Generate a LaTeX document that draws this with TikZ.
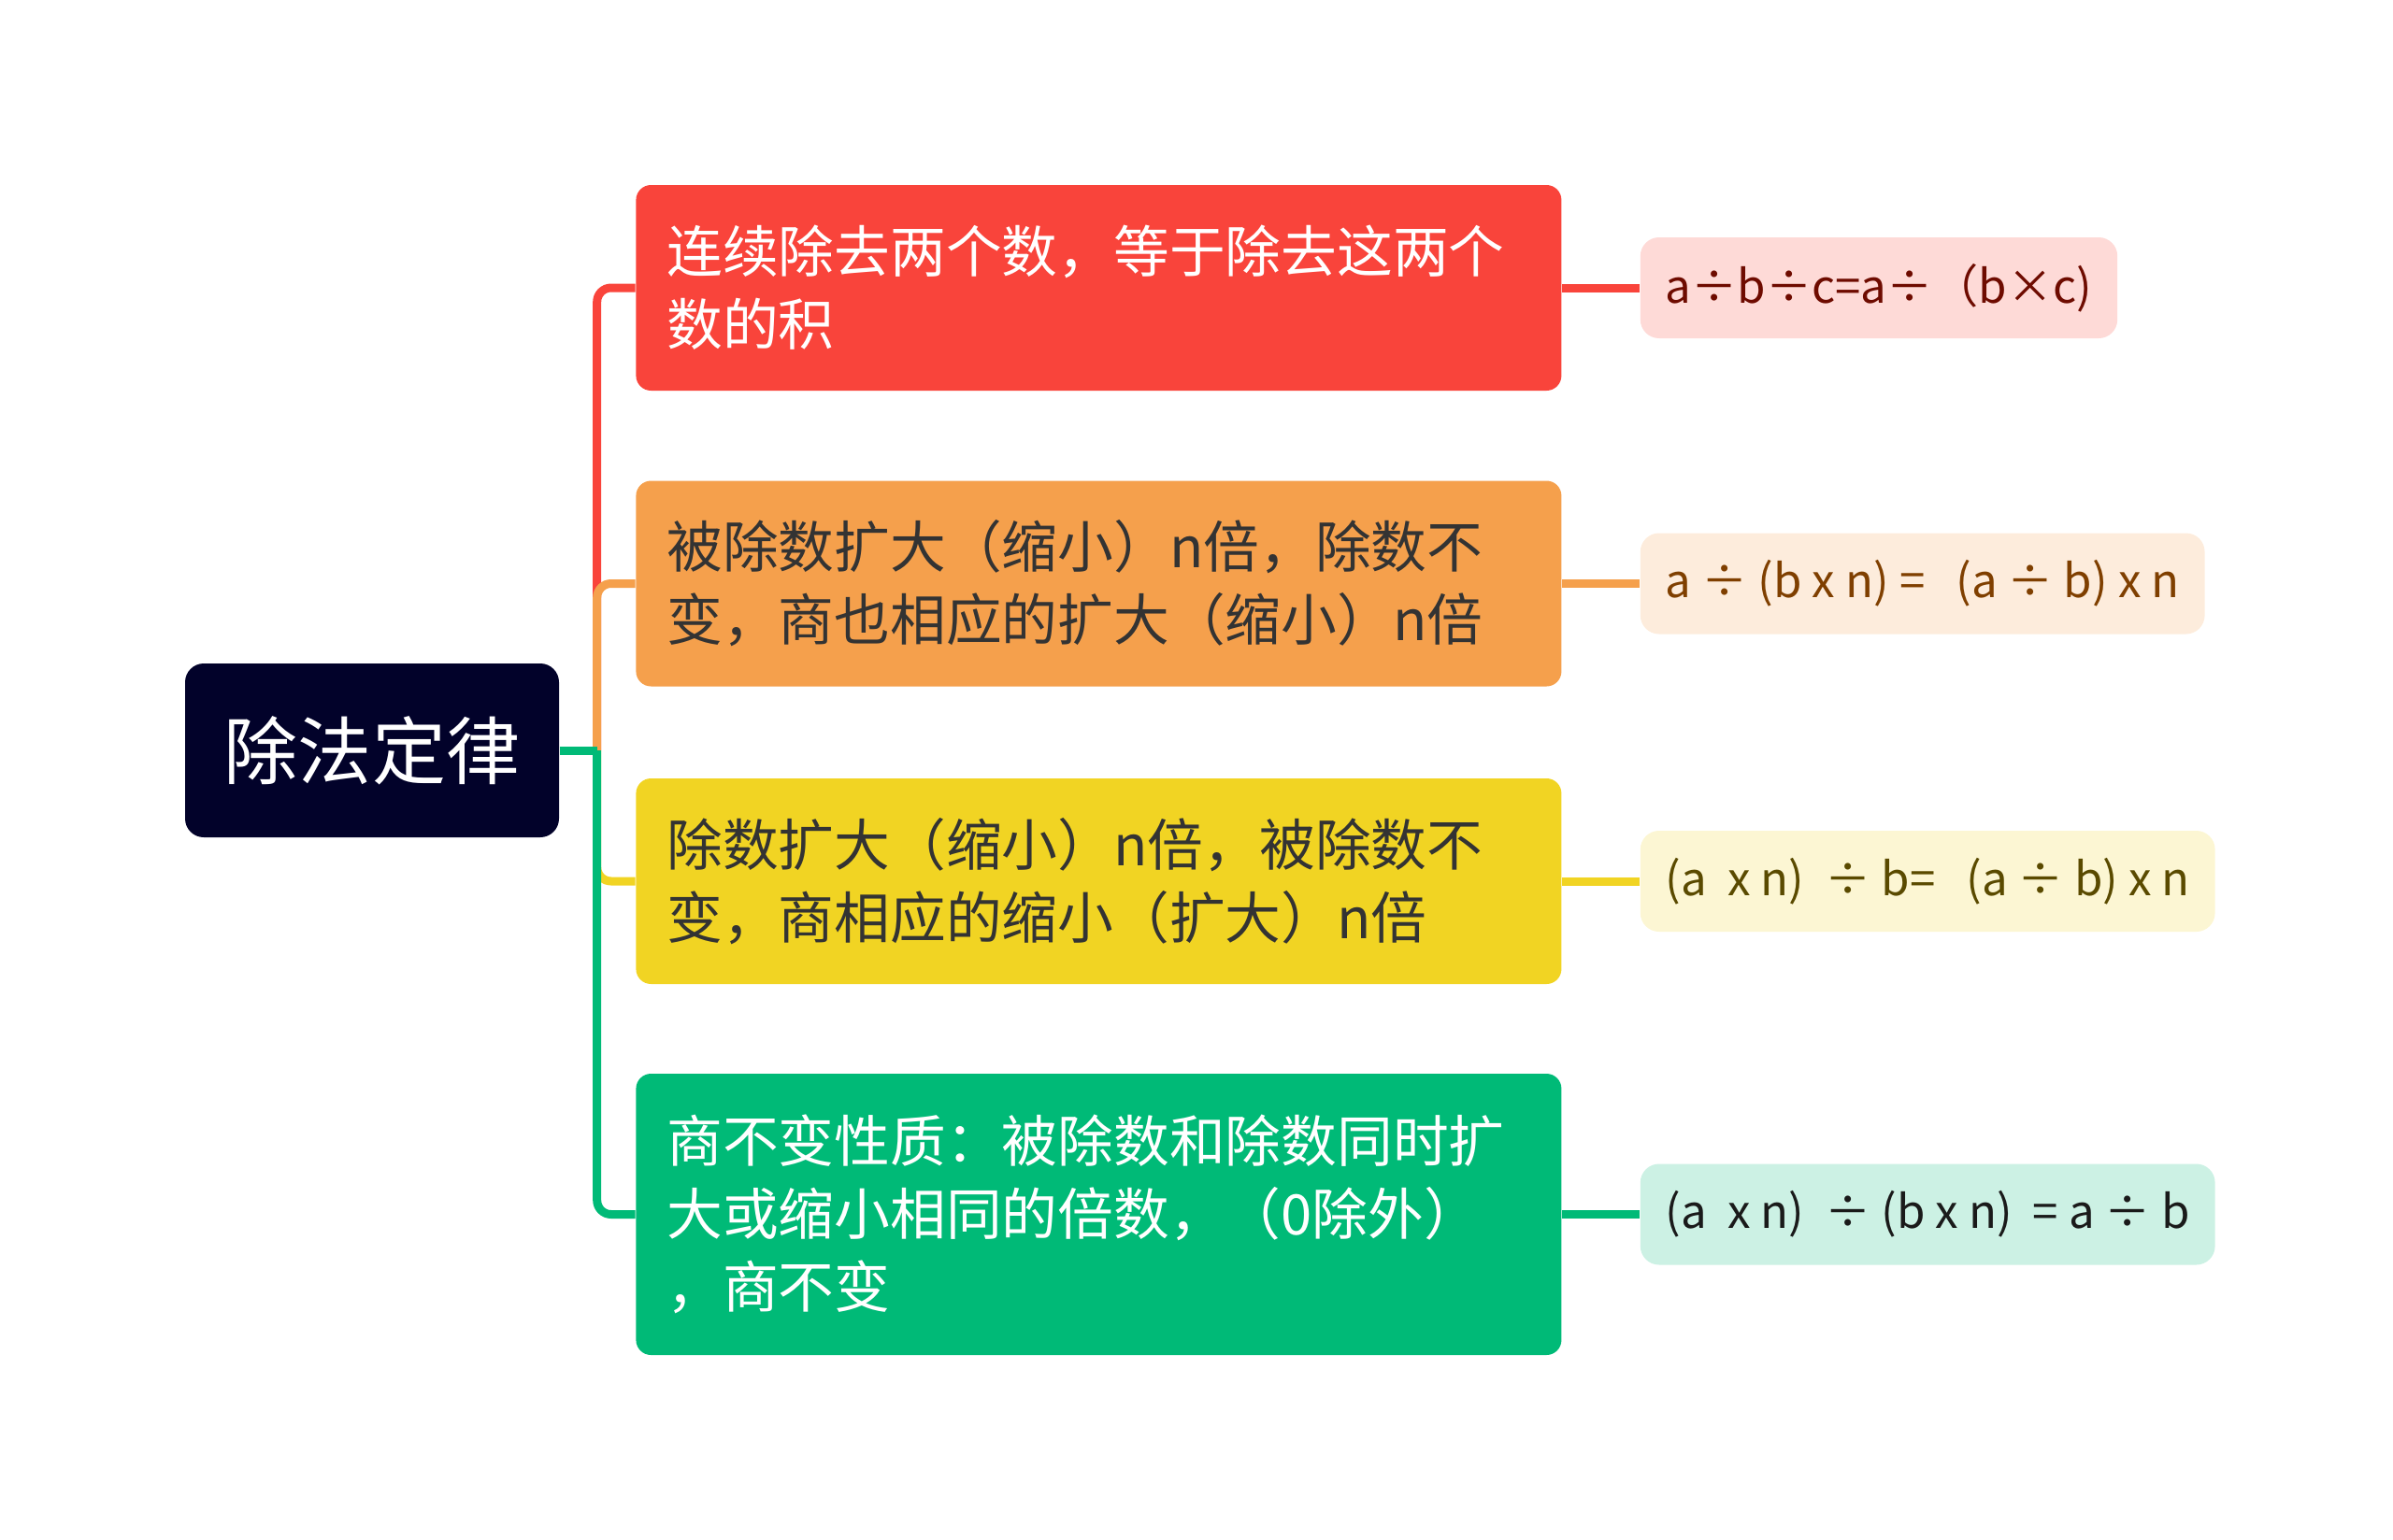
\documentclass[tikz,border=0pt]{standalone}
\usepackage{fontspec}
\setmainfont{Noto Sans CJK SC}
\usepackage{tikz}
\usetikzlibrary{positioning, calc}

\definecolor{rootc}{HTML}{02022A}
\definecolor{redb}{HTML}{F9443B}
\definecolor{orab}{HTML}{F5A04C}
\definecolor{yelb}{HTML}{F1D423}
\definecolor{greb}{HTML}{00BA77}
\definecolor{redl}{HTML}{FEDAD7}
\definecolor{oral}{HTML}{FDECDC}
\definecolor{yell}{HTML}{FCF6D3}
\definecolor{grel}{HTML}{CCF1E4}
\definecolor{redt}{HTML}{6E0B00}
\definecolor{orat}{HTML}{7F3F00}
\definecolor{yelt}{HTML}{5A4A00}
\definecolor{gret}{HTML}{1A1A1A}
\definecolor{darkt}{HTML}{333333}

\tikzset{
  topic/.style={fill=rootc, text=white, rounded corners=0.2cm, minimum width=4cm,
    minimum height=1.86cm, font=\fontsize{22.5pt}{27pt}\selectfont},
  branch/.style={rounded corners=0.16cm, minimum width=9.9cm, text width=9.24cm,
    inner xsep=0.33cm, align=left, minimum height=2.2cm,
    font=\fontsize{17pt}{22.2pt}\selectfont},
  leaf/.style={rounded corners=0.2cm, minimum height=1.08cm, inner xsep=0.27cm,
    font=\fontsize{14pt}{17pt}\selectfont},
  conn/.style={line width=0.09cm},
}

\begin{document}
\begin{tikzpicture}
  \useasboundingbox (0,0) rectangle (25.6,-16.48);

  \node[topic] (root) at (3.98,-8.03) {除法定律};
  \coordinate[right=0.4cm of root.east] (hub);

  \node[branch, fill=redb, text=white, right=0.81cm of root, yshift=4.95cm] (b1)
    {连续除去两个数，等于除去这两个\\数的积};
  \node[branch, fill=orab, text=darkt, right=0.81cm of root, yshift=1.785cm] (b2)
    {被除数扩大（缩小）n倍，除数不\\变，商也相应的扩大（缩小）n倍};
  \node[branch, fill=yelb, text=darkt, right=0.81cm of root, yshift=-1.4cm] (b3)
    {除数扩大（缩小）n倍，被除数不\\变，商相应的缩小（扩大）n倍};
  \node[branch, fill=greb, text=white, minimum height=3.01cm, right=0.81cm of root, yshift=-4.965cm] (b4)
    {商不变性质：被除数和除数同时扩\\大或缩小相同的倍数，（0除外）\\，商不变};

  %FORMULAS
  \node[leaf, fill=redl, text=redt, right=0.83cm of b1] (l1) {a÷b÷c=a÷（b×c)};
  \node[leaf, fill=oral, text=orat, right=0.83cm of b2] (l2) {a ÷ (b x n) =~~~(a ÷ b) x n};
  \node[leaf, fill=yell, text=yelt, right=0.83cm of b3] (l3) {(a~~x n)~~÷ b=~~~(a ÷ b) x n};
  \node[leaf, fill=grel, text=gret, right=0.83cm of b4] (l4) {(a~~x n)~~÷ (b x n)~~= a ÷ b};

  \draw[conn, redb, rounded corners=0.15cm] (hub) |- (b1.west);
  \draw[conn, orab, rounded corners=0.15cm] (hub) |- (b2.west);
  \draw[conn, yelb, rounded corners=0.15cm] (hub) |- (b3.west);
  \draw[conn, greb, rounded corners=0.15cm] (hub) |- (b4.west);
  \draw[conn, greb] (root.east) -- (hub);

  \draw[conn, redb] (b1) -- (l1);
  \draw[conn, orab] (b2) -- (l2);
  \draw[conn, yelb] (b3) -- (l3);
  \draw[conn, greb] (b4) -- (l4);
\end{tikzpicture}
\end{document}
